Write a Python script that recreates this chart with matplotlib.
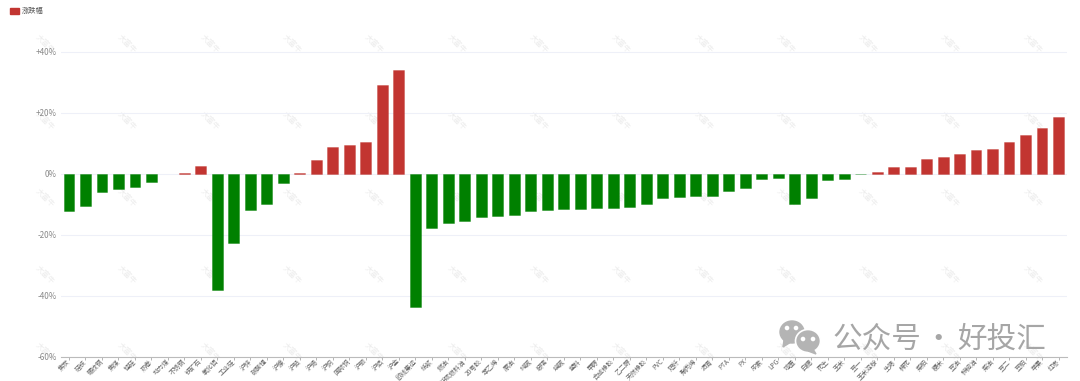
import matplotlib
matplotlib.use('Agg')
import matplotlib.pyplot as plt
from matplotlib.patches import Ellipse, Patch, Polygon

plt.rcParams['font.family'] = ['Noto Sans CJK SC', 'DejaVu Sans']

# 品种
names = ['焦炭', '硅铁', '螺纹钢', '焦煤', '锰硅', '热卷', '动力煤', '不锈钢', '铁矿石', '氧化铝',
         '工业硅', '沪锌', '碳酸锂', '沪镍', '沪铅', '沪锡', '沪铜', '国际铜', '沪银', '沪铝',
         '沪金', '欧线集运', '纸浆', '燃油', '低硫燃料油', '20号胶', '苯乙烯', '原油', '纯碱', '玻璃',
         '烧碱', '塑料', '甲醇', '合成橡胶', '乙二醇', '天然橡胶', 'PVC', '短纤', '聚丙烯', '沥青',
         'PTA', 'PX', '尿素', 'LPG', '鸡蛋', '白糖', '花生', '玉米', '豆一', '玉米淀粉',
         '生猪', '棉花', '菜粕', '粳米', '豆油', '棕榈油', '菜油', '豆二', '豆粕', '苹果', '红枣']

# 涨跌幅 (%)
change = [-12.0, -10.4, -6.0, -5.0, -4.4, -2.6, 0.0, 0.15, 2.7, -38.2,
          -22.8, -11.9, -10.0, -3.0, 0.2, 4.6, 8.7, 9.4, 10.5, 29.0,
          34.0, -43.6, -17.6, -16.2, -15.3, -14.0, -13.8, -13.6, -12.0, -11.7,
          -11.6, -11.5, -11.3, -11.1, -10.9, -9.8, -7.9, -7.6, -7.2, -7.2,
          -5.6, -4.6, -1.6, -1.5, -10.0, -7.9, -1.9, -1.6, -0.1, 0.6,
          2.2, 2.2, 4.8, 5.6, 6.4, 8.0, 8.2, 10.3, 12.6, 14.9, 18.8]

y_ticks = [-60, -40, -20, 0, 20, 40]
y_labels = ['-60%', '-40%', '-20%', '0%', '+20%', '+40%']

RED = '#c23531'
GREEN = '#008000'
W, H = 1080, 381


def edge_color(v):
    if v == 0:
        return (0, 0, 0, 0)
    return (0.76, 0.21, 0.19, 0.35) if v > 0 else (0.0, 0.5, 0.0, 0.4)


fig = plt.figure(figsize=(W / 100, H / 100), dpi=100)

# 水印和公众号标记放在整图坐标层 (像素)
bg = fig.add_axes([0, 0, 1, 1], zorder=0)
bg.set_xlim(0, W)
bg.set_ylim(H, 0)
bg.axis('off')
for r in range(5):
    for c in range(13):
        bg.text(45 + c * 82.3, 44 + r * 77, '大富牛', fontsize=5.5, color='#ececec',
                rotation=-45, ha='center', va='center')

ax = fig.add_axes([60.75 / W, 1 - 357 / H, 1006 / W, 357 / H], zorder=1)
ax.patch.set_alpha(0)
colors = [RED if v >= 0 else GREEN for v in change]
edges = [edge_color(v) for v in change]
ax.bar(range(len(names)), change, width=0.66, color=colors, edgecolor=edges, linewidth=0.7, zorder=3)

ax.set_xlim(-0.5, len(names) - 0.5)
ax.set_ylim(-60, 57)
ax.set_yticks(y_ticks)
ax.set_yticklabels(y_labels, fontsize=5.8, color='#888888')
ax.set_xticks(range(len(names)))
ax.set_xticklabels(names, fontsize=4.7, color='#666666', rotation=45, ha='right',
                   va='center', rotation_mode='anchor')
ax.tick_params(axis='y', length=0, pad=3)
ax.tick_params(axis='x', length=2, width=0.6, color='#aaaaaa', pad=0.5)
ax.grid(axis='y', color='#eef0f8', linewidth=0.8, zorder=0)
ax.set_axisbelow(True)
for s in ['top', 'right', 'left']:
    ax.spines[s].set_visible(False)
ax.spines['bottom'].set_color('#bbbbbb')
ax.spines['bottom'].set_linewidth(0.8)

fig.legend(handles=[Patch(color=RED, label='涨跌幅')], loc='upper left',
           bbox_to_anchor=(3 / W, 1 - 1 / H), frameon=False, fontsize=5.2,
           handlelength=1.25, handleheight=0.8, handletextpad=0.45, labelcolor='#555555')

# 公众号标记
top = fig.add_axes([0, 0, 1, 1], zorder=2)
top.set_xlim(0, W)
top.set_ylim(H, 0)
top.axis('off')
top.add_patch(Ellipse((792, 332), 24, 22, color='#b4b4b4'))
top.add_patch(Polygon([[784, 340], [783, 347], [791, 342]], color='#b4b4b4'))
top.add_patch(Ellipse((808, 341), 25, 23, facecolor='#b4b4b4', edgecolor='white', linewidth=1.2))
top.add_patch(Polygon([[813, 349], [816, 354], [808, 351]], color='#b4b4b4'))
for px, py in [(787, 328), (796, 328), (803, 339), (813, 339)]:
    top.add_patch(Ellipse((px, py), 3.2, 3.2, color='white'))
top.text(832, 339, '公众号', fontsize=21.3, color='#a6a6a6', ha='left', va='center')
top.text(938, 339, '·', fontsize=21.3, color='#a6a6a6', ha='center', va='center')
top.text(957, 339, '好投汇', fontsize=21.3, color='#a6a6a6', ha='left', va='center')

fig.savefig('out.png', dpi=100)
